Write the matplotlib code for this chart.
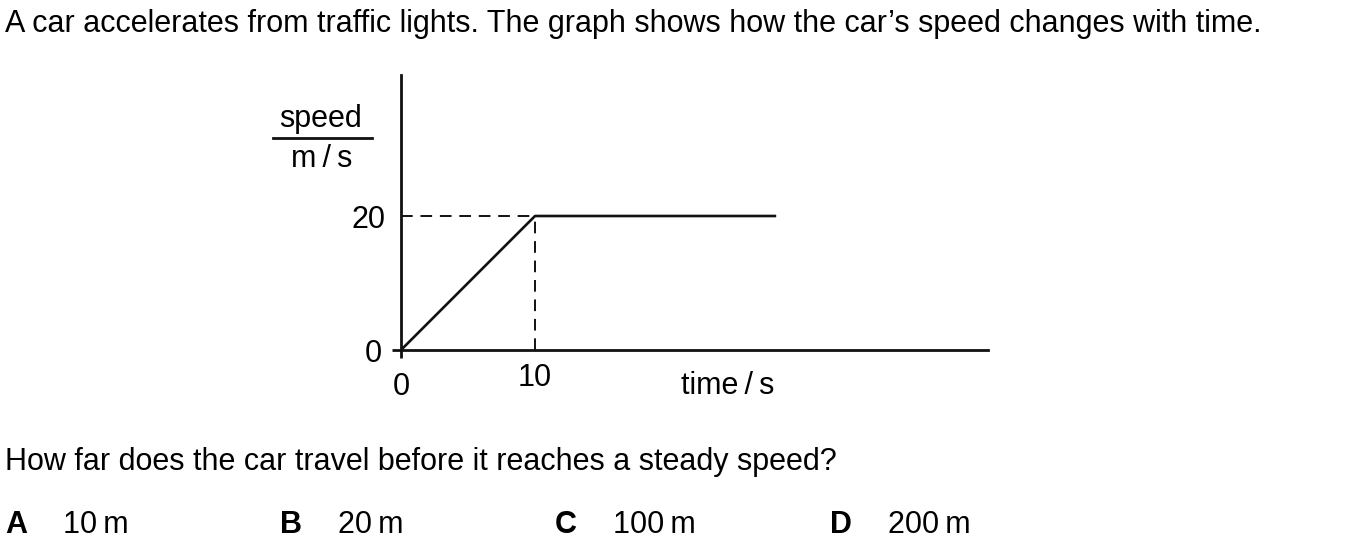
import matplotlib.pyplot as plt

# speed-time graph data
time_s = [0, 10, 28]
speed_ms = [0, 20, 20]
x_ticks = [10]
y_ticks = [20]
options = ["A", "B", "C", "D"]
answers = ["10\u2009m", "20\u2009m", "100\u2009m", "200\u2009m"]

plt.rcParams['font.family'] = ['Liberation Sans', 'DejaVu Sans']
fs = 22

fig = plt.figure(figsize=(13.55, 5.43), dpi=100)
W, H = 1355, 543

# axes placed so origin sits at (401, 350) px
ax = fig.add_axes([401 / W, 1 - 350 / H, 43.8 * 13.4 / W, 41 * 6.7 / H])
ax.set_xlim(0, 43.8)
ax.set_ylim(0, 41)
for s in ["top", "right"]:
    ax.spines[s].set_visible(False)
for s in ["left", "bottom"]:
    ax.spines[s].set_linewidth(2.0)
    ax.spines[s].set_color("#111111")

ax.plot(time_s, speed_ms, color="#111111", lw=1.9, solid_capstyle="butt")
# dashed guides to the corner
ax.plot([0, time_s[1]], [speed_ms[1], speed_ms[1]], color="#111111", lw=1.4,
        dashes=(6, 4))
ax.plot([time_s[1], time_s[1]], [0, speed_ms[1]], color="#111111", lw=1.4,
        dashes=(6, 4))

# origin ticks are major, the others are unmarked minor ticks
ax.set_xticks([0])
ax.set_yticks([0])
ax.set_xticks(x_ticks, minor=True)
ax.set_yticks(y_ticks, minor=True)
ax.set_xticklabels(["0"], fontsize=fs)
ax.set_yticklabels(["0"], fontsize=fs)
ax.set_xticklabels([str(v) for v in x_ticks], minor=True, fontsize=fs)
ax.set_yticklabels([str(v) for v in y_ticks], minor=True, fontsize=fs)
ax.tick_params(axis="x", which="major", length=6, width=2, pad=10, color="#111111")
ax.tick_params(axis="y", which="major", length=6.5, width=2, pad=7, color="#111111")
ax.tick_params(axis="x", which="minor", length=0, pad=9)
ax.tick_params(axis="y", which="minor", length=0, pad=11)

# axis labels
fig.text(728 / W, 1 - 386 / H, "time\u2009/\u2009s", fontsize=fs, ha="center", va="center")
fig.text(321 / W, 1 - 127 / H, "speed", fontsize=fs, ha="center", va="baseline")
fig.text(322 / W, 1 - 167 / H, "m\u2009/\u2009s", fontsize=fs, ha="center", va="baseline")
fig.add_artist(plt.Line2D([273 / W, 372 / W], [1 - 138 / H, 1 - 138 / H],
                          color="#111111", lw=2))

fig.text(5 / W, 1 - 24 / H,
         "A car accelerates from traffic lights. The graph shows how the car\u2019s speed changes with time.",
         fontsize=fs, ha="left", va="center")
fig.text(5 / W, 1 - 462 / H,
         "How far does the car travel before it reaches a steady speed?",
         fontsize=fs, ha="left", va="center")

for i, (opt, ans) in enumerate(zip(options, answers)):
    x0 = 5 + i * 275
    fig.text(x0 / W, 1 - 525 / H, opt, fontsize=fs, fontweight="bold",
             ha="left", va="center")
    fig.text((x0 + 58) / W, 1 - 525 / H, ans, fontsize=fs, ha="left", va="center")

fig.savefig("out.png", dpi=100)
